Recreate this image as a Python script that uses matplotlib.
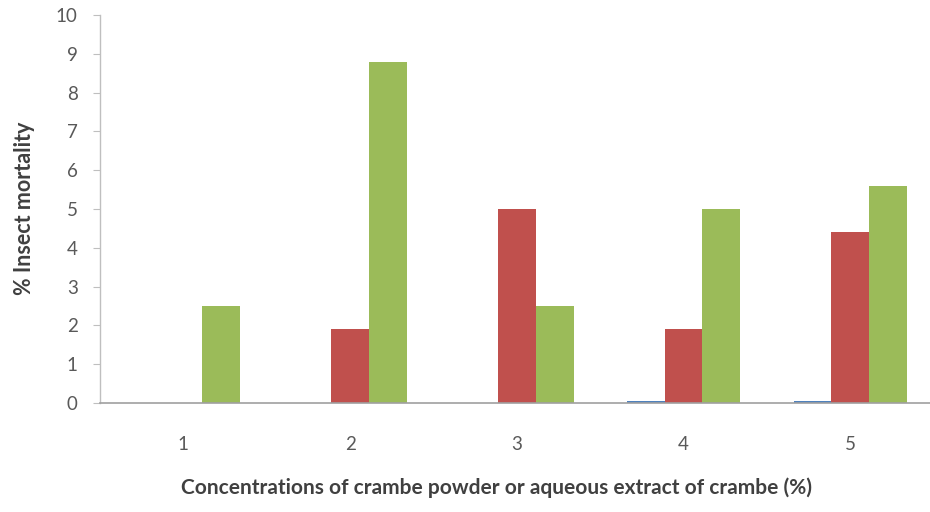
import matplotlib
matplotlib.use("Agg")
import matplotlib.pyplot as plt
import numpy as np

categories = ["1", "2", "3", "4", "5"]
series_blue = [0, 0, 0, 0.05, 0.05]
series_red = [0, 1.9, 5.0, 1.9, 4.4]
series_green = [2.5, 8.8, 2.5, 5.0, 5.6]
yticks = list(range(0, 11))

plt.rcParams['font.family'] = ['Lato', 'DejaVu Sans']

fig = plt.figure(figsize=(9.3, 5.12), dpi=100)
L, B, W, H = 0.1075, 0.2129, 0.8925, 0.7578
ax = fig.add_axes([L, B, W, H])

x = np.arange(len(categories))
w = 0.227
ax.bar(x - w, series_blue, w, color="#4F81BD", linewidth=0)
ax.bar(x, series_red, w, color="#C0504D", linewidth=0)
ax.bar(x + w, series_green, w, color="#9BBB59", linewidth=0)

ax.set_xlim(-0.5, 4.478)
ax.set_ylim(0, 10)
ax.set_yticks(yticks)
ax.set_xticks(x)
ax.set_xticklabels(categories)

for s in ["top", "right"]:
    ax.spines[s].set_visible(False)
ax.spines["left"].set_color("#BFBFBF")
ax.spines["bottom"].set_color("#A0A0A0")
ax.spines["left"].set_linewidth(1.0)
ax.spines["bottom"].set_linewidth(1.2)

ax.tick_params(axis="y", direction="out", length=5, color="#BFBFBF", labelsize=13.5, labelcolor="#595959", pad=11)
ax.tick_params(axis="x", length=0, labelsize=13.5, labelcolor="#595959", pad=24)

ax.set_ylabel("% Insect mortality", fontsize=15.5, fontweight="bold", color="#404040")
ax.yaxis.set_label_coords(-(100 - 25) / (W * 930), (403 - 208) / (H * 512))
ax.set_xlabel("Concentrations of crambe powder or aqueous extract of crambe (%)", fontsize=15,
              fontweight="bold", color="#404040")
ax.xaxis.set_label_coords((497 - 100) / (W * 930), -(488 - 403) / (H * 512))
ax.xaxis.label.set_verticalalignment("center")
ax.yaxis.label.set_verticalalignment("center")

fig.savefig("out.png", dpi=100, facecolor="white")
